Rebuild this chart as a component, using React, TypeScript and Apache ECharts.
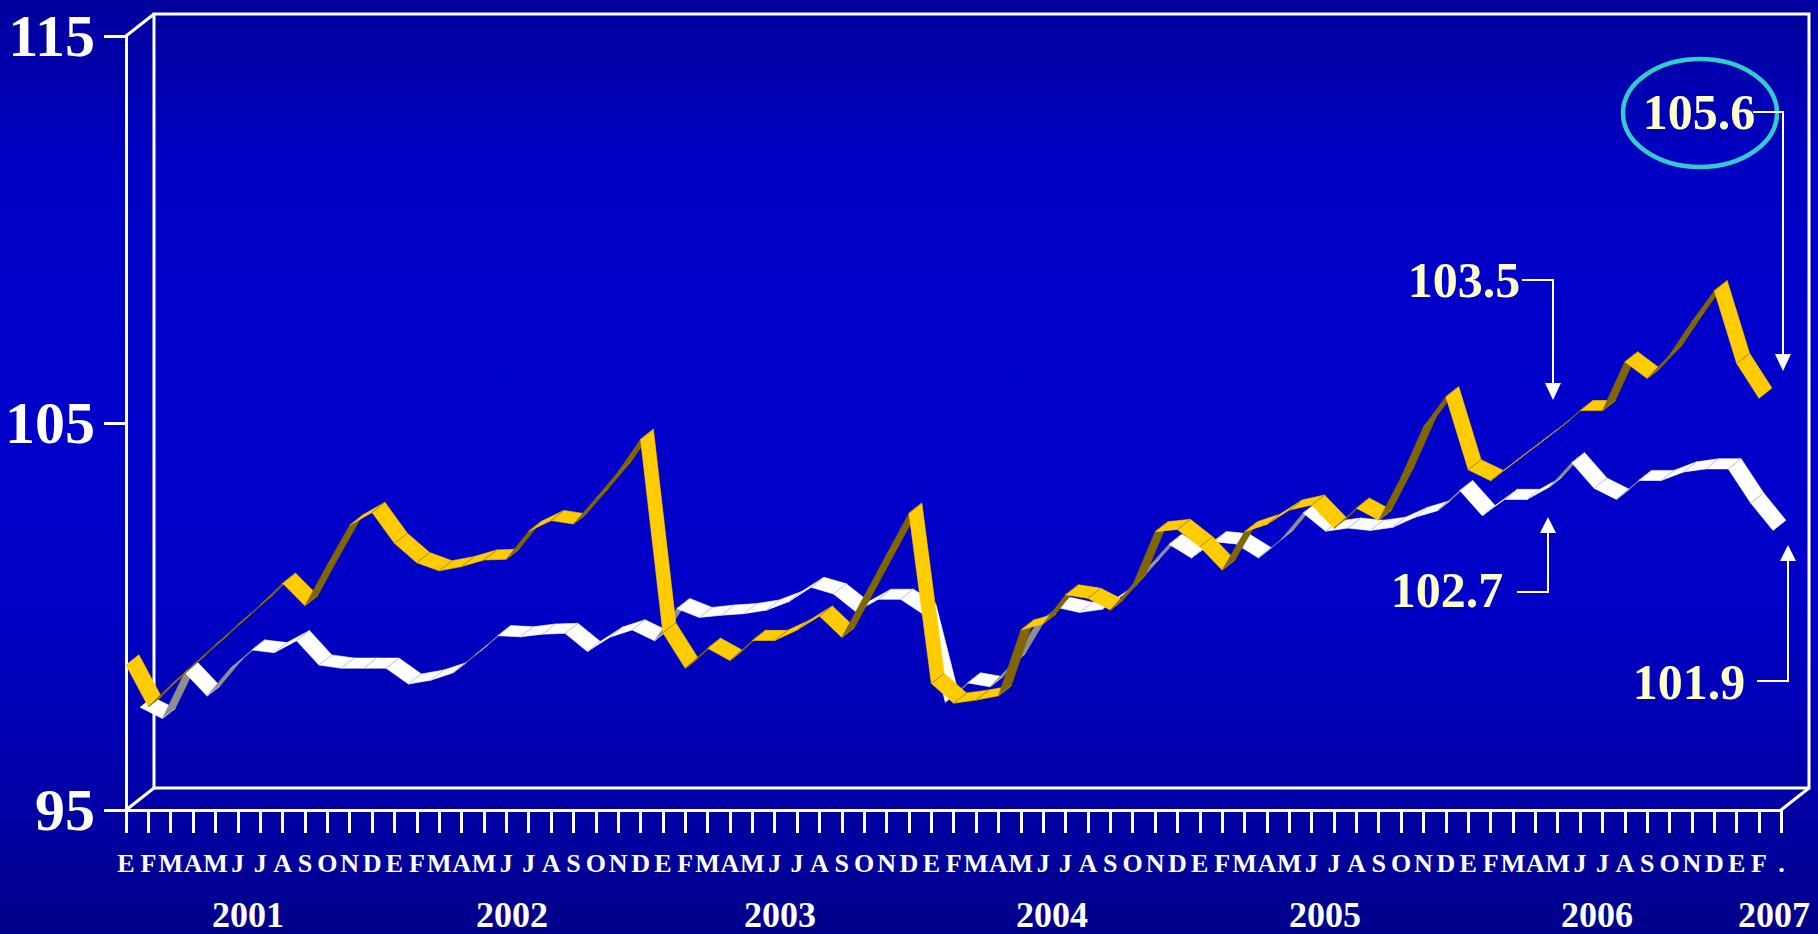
import React, { useEffect, useRef } from "react";
import * as echarts from "echarts";

// ---------- data ----------
const yearMonths = ["E", "F", "M", "A", "M", "J", "J", "A", "S", "O", "N", "D"];
const monthLabels: string[] = [
  ...yearMonths, ...yearMonths, ...yearMonths, ...yearMonths, ...yearMonths, ...yearMonths,
  "E", "F", ".",
];

// yellow (front) series, Jan 2001 .. Feb 2007
const yellowValues = [
  98.75, 97.67, 98.23, 98.75, 99.27, 99.79, 100.3, 100.86, 100.28, 101.34, 102.36, 102.69,
  101.89, 101.39, 101.18, 101.29, 101.46, 101.48, 102.2, 102.48, 102.39, 103.05, 103.74, 104.58,
  99.58, 98.66, 99.18, 98.86, 99.38, 99.38, 99.65, 100.01, 99.46, 100.53, 101.6, 102.67,
  98.27, 97.76, 97.84, 97.95, 99.65, 99.81, 100.56, 100.47, 100.17, 100.81, 102.19, 102.25,
  101.8, 101.2, 102.19, 102.38, 102.75, 102.88, 102.28, 102.8, 102.49, 103.6, 104.9, 105.68,
  103.79, 103.51, 103.95, 104.39, 104.83, 105.32, 105.32, 106.58, 106.15, 106.76, 107.62, 108.42,
  106.54, 105.64,
];

// white (back) series, Jan 2001 .. Feb 2007
const whiteValues = [
  97.37, 97.08, 98.27, 97.66, 98.35, 98.85, 98.78, 99.09, 98.46, 98.38, 98.38, 98.38,
  97.97, 98.07, 98.26, 98.73, 99.22, 99.19, 99.26, 99.28, 98.81, 99.18, 99.37, 99.09,
  99.92, 99.69, 99.75, 99.79, 99.88, 100.1, 100.47, 100.3, 99.84, 100.16, 100.16, 99.78,
  97.5, 98.0, 97.9, 98.5, 99.47, 99.95, 99.82, 99.9, 100.29, 100.94, 101.58, 101.23,
  101.65, 101.59, 101.23, 101.7, 102.39, 101.92, 102.0, 101.94, 102.02, 102.28, 102.45, 102.97,
  102.32, 102.74, 102.74, 103.06, 103.69, 103.03, 102.74, 103.23, 103.23, 103.45, 103.53, 103.53,
  102.65, 101.94,
];

const yMin = 95;
const yMax = 115;
const yStep = 10;

const yearLabels = ["2001", "2002", "2003", "2004", "2005", "2006", "2007"];
const calloutLabels = ["105.6", "103.5", "102.7", "101.9"];

// ---------- style / layout ----------
const SERIF = '"Liberation Serif", "Times New Roman", "DejaVu Serif", serif';
const DEPTH: [number, number] = [28, -22];

const makeRibbon = (
  name: string,
  values: number[],
  z0: number,
  z1: number,
  light: string,
  dark: string,
  seam: string
) => ({
  type: "custom",
  name,
  xAxisIndex: 0,
  yAxisIndex: 0,
  clip: false,
  silent: true,
  data: values.slice(0, -1).map((v, i) => [i, v, values[i + 1]]),
  encode: { x: 0, y: [1, 2] },
  renderItem: (_params: any, api: any) => {
    const i = api.value(0) as number;
    const p0 = api.coord([i, api.value(1)]);
    const p1 = api.coord([i + 1, api.value(2)]);
    const off = (p: number[], t: number) => [p[0] + DEPTH[0] * t, p[1] + DEPTH[1] * t];
    const f0 = off(p0, z0);
    const f1 = off(p1, z0);
    const b0 = off(p0, z1);
    const b1 = off(p1, z1);
    const sx = p1[0] - p0[0];
    const sy = p1[1] - p0[1];
    const topVisible = sx * -DEPTH[1] + sy * DEPTH[0] > 0;
    const fill = topVisible ? light : dark;
    const children: any[] = [
      {
        type: "polygon",
        shape: { points: [f0, f1, b1, b0] },
        style: { fill, stroke: fill, lineWidth: 0.6 },
      },
    ];
    if (i > 0) {
      children.push({
        type: "line",
        shape: { x1: f0[0], y1: f0[1], x2: b0[0], y2: b0[1] },
        style: { stroke: seam, lineWidth: 0.8 },
      });
    }
    return { type: "group", children };
  },
});

const calloutText = (text: string, x: number, y: number) => ({
  type: "text",
  x,
  y,
  z: 50,
  style: {
    text,
    fill: "#FFFFCC",
    font: `bold 50px ${SERIF}`,
    align: "center",
    verticalAlign: "middle",
    textShadowColor: "#000000",
    textShadowOffsetX: 3,
    textShadowOffsetY: 3,
    textShadowBlur: 0,
  },
});

const lineStyle = { stroke: "#FFFFFF", lineWidth: 2, fill: null };

const App: React.FC = () => {
  const ref = useRef<HTMLDivElement>(null);

  useEffect(() => {
    if (!ref.current) return;
    const chart = echarts.init(ref.current, undefined, { renderer: "svg" });

    const yearCenters = [248, 512, 780, 1052, 1325, 1597, 1774];
    const yearLines = [
      [117, 358], [373, 630], [646, 896], [933, 1190], [1206, 1462], [1479, 1719], [1735, 1810],
    ];

    const graphic: any[] = [
      // depth edges of the 3D box
      { type: "line", shape: { x1: 126, y1: 36, x2: 154, y2: 14 }, style: { stroke: "#fff", lineWidth: 3 } },
      { type: "line", shape: { x1: 126, y1: 810, x2: 154, y2: 788 }, style: { stroke: "#fff", lineWidth: 3 } },
      { type: "line", shape: { x1: 1781, y1: 810, x2: 1809, y2: 788 }, style: { stroke: "#fff", lineWidth: 3 } },
      // year underlines and labels
      ...yearLines.map(([a, b]) => ({
        type: "line",
        shape: { x1: a, y1: 896, x2: b, y2: 896 },
        style: { stroke: "#FFFFFF", lineWidth: 4, shadowColor: "rgba(0,0,0,0.6)", shadowOffsetY: 2, shadowOffsetX: 1 },
      })),
      ...yearLabels.map((t, k) => ({
        type: "text",
        x: yearCenters[k],
        y: 933,
        style: {
          text: t,
          fill: "#FFFFFF",
          font: `bold 36px ${SERIF}`,
          align: "center",
          verticalAlign: "bottom",
          textShadowColor: "#000000",
          textShadowOffsetX: 2,
          textShadowOffsetY: 2,
        },
      })),
      // highlight ellipse
      {
        type: "ellipse",
        z: 40,
        shape: { cx: 1700, cy: 113, rx: 77, ry: 54 },
        style: { fill: null, stroke: "#33CCCC", lineWidth: 4.5 },
      },
      // callout texts
      calloutText(calloutLabels[0], 1699, 112),
      calloutText(calloutLabels[1], 1464, 280),
      calloutText(calloutLabels[2], 1447, 590),
      calloutText(calloutLabels[3], 1689, 682),
      // leader lines
      { type: "polyline", z: 40, shape: { points: [[1753, 112], [1783, 112], [1783, 356]] }, style: lineStyle },
      { type: "polygon", z: 40, shape: { points: [[1775, 354], [1791, 354], [1783, 371]] }, style: { fill: "#fff" } },
      { type: "polyline", z: 40, shape: { points: [[1522, 280], [1553, 280], [1553, 385]] }, style: lineStyle },
      { type: "polygon", z: 40, shape: { points: [[1545, 383], [1561, 383], [1553, 400]] }, style: { fill: "#fff" } },
      { type: "polyline", z: 40, shape: { points: [[1517, 592], [1548, 592], [1548, 530]] }, style: lineStyle },
      { type: "polygon", z: 40, shape: { points: [[1540, 533], [1556, 533], [1548, 517]] }, style: { fill: "#fff" } },
      { type: "polyline", z: 40, shape: { points: [[1757, 681], [1788, 681], [1788, 558]] }, style: lineStyle },
      { type: "polygon", z: 40, shape: { points: [[1780, 561], [1796, 561], [1788, 545]] }, style: { fill: "#fff" } },
    ];

    const option: any = {
      animation: false,
      backgroundColor: "transparent",
      grid: [
        { left: 126, right: 36.6, top: 36, bottom: 124, containLabel: false },
        {
          left: 154, right: 9, top: 14, bottom: 146, show: true,
          borderColor: "#FFFFFF", borderWidth: 3, backgroundColor: "transparent",
        },
      ],
      xAxis: [
        {
          type: "category",
          gridIndex: 0,
          data: monthLabels,
          boundaryGap: false,
          axisLine: { show: true, lineStyle: { color: "#FFFFFF", width: 3 } },
          axisTick: { show: true, interval: 0, length: 23, inside: false, lineStyle: { color: "#FFFFFF", width: 3 } },
          axisLabel: {
            interval: 0,
            margin: 40,
            color: "#FFFFFF",
            fontFamily: SERIF,
            fontWeight: "bold",
            fontSize: 26,
            textShadowColor: "rgba(0,0,0,0.7)",
            textShadowOffsetX: 1.5,
            textShadowOffsetY: 1.5,
          },
          splitLine: { show: false },
        },
        { type: "value", gridIndex: 1, show: false, min: 0, max: 1 },
      ],
      yAxis: [
        {
          type: "value",
          gridIndex: 0,
          min: yMin,
          max: yMax,
          interval: yStep,
          axisLine: { show: true, lineStyle: { color: "#FFFFFF", width: 3 } },
          axisTick: { show: true, length: 22, inside: false, lineStyle: { color: "#FFFFFF", width: 3 } },
          axisLabel: {
            margin: 31,
            color: "#FFFFFF",
            fontFamily: SERIF,
            fontWeight: "bold",
            fontSize: 60,
          },
          splitLine: { show: false },
        },
        { type: "value", gridIndex: 1, show: false, min: 0, max: 1 },
      ],
      series: [
        makeRibbon("white", whiteValues, 0.5, 0.96, "#FFFFFF", "#8E8E8E", "#B4B4EE"),
        makeRibbon("yellow", yellowValues, 0, 0.46, "#FFCC00", "#806600", "#A08000"),
      ],
      graphic,
    };

    chart.setOption(option);
    return () => chart.dispose();
  }, []);

  return (
    <div
      ref={ref}
      style={{
        position: "absolute",
        left: 0,
        top: 0,
        width: 1818,
        height: 934,
        background:
          "linear-gradient(to bottom, #00009C 0%, #0000C4 18%, #0000CC 40%, #0000C6 65%, #0000A8 85%, #00008A 100%)",
      }}
    />
  );
};

export default App;
